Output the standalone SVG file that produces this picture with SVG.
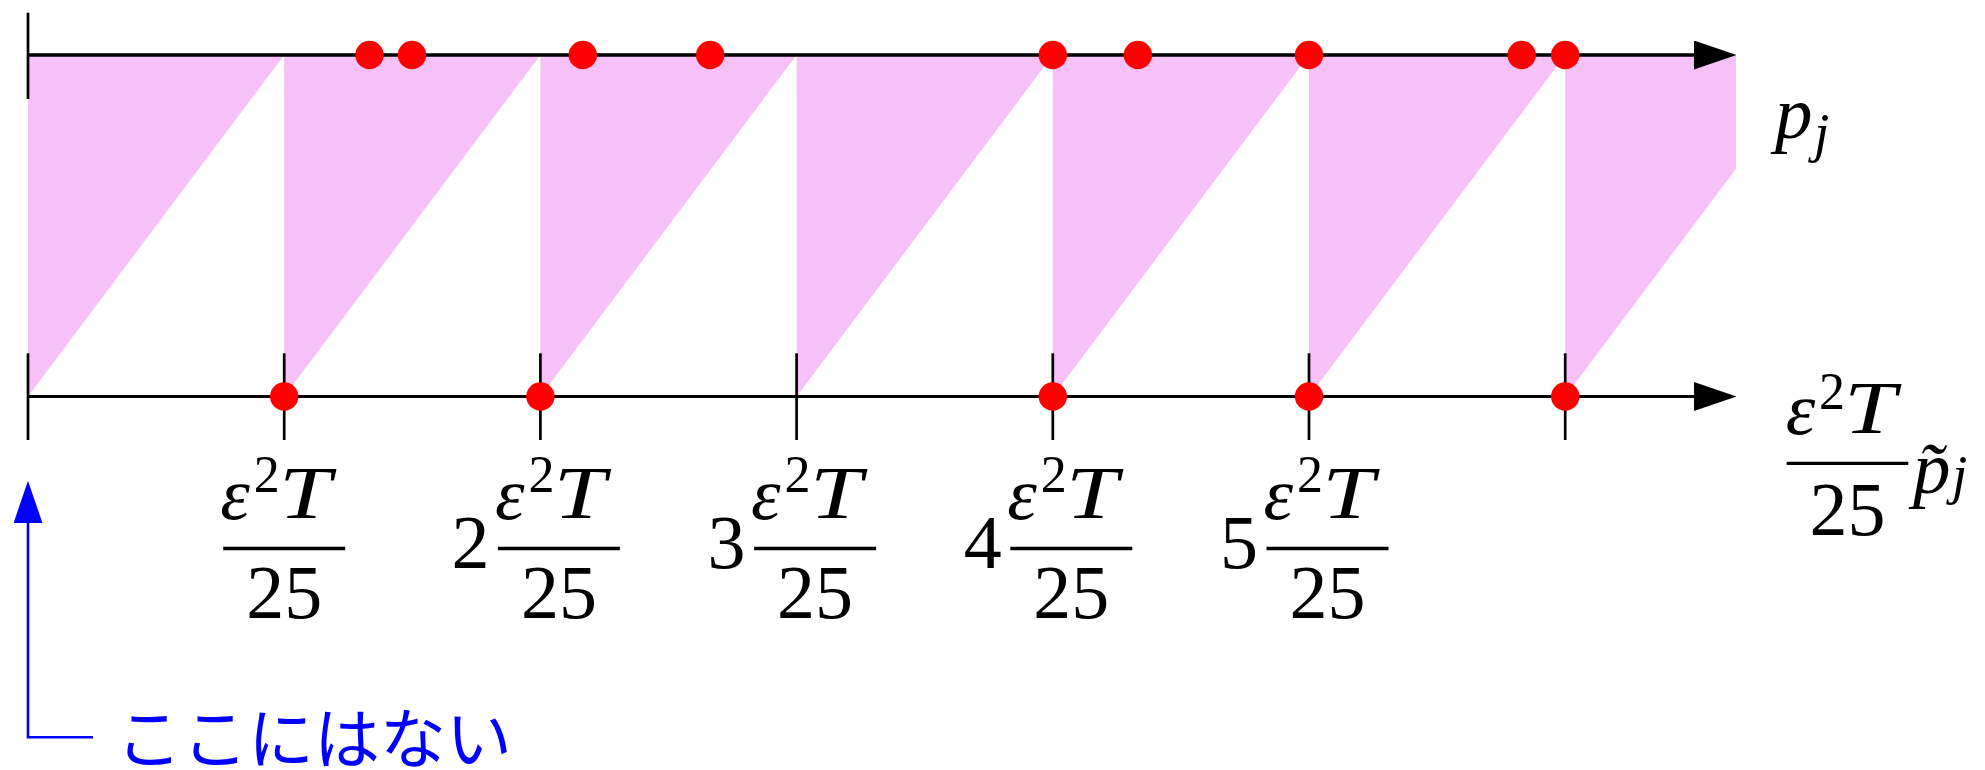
<svg xmlns="http://www.w3.org/2000/svg" width="1985" height="770" viewBox="0 0 1985 770">
<style>
.pink{fill:#f6c1f6}
.axt{stroke:#000;stroke-width:3.4;fill:none}
.axb{stroke:#000;stroke-width:2.8;fill:none}
.tick{stroke:#000;stroke-width:2.7}
.dot{fill:#ff0000}
.bar{stroke:#000;stroke-width:3.3}
.m{font-family:"Liberation Serif",serif;font-style:italic;font-size:75px;fill:#000}
.n{font-family:"Liberation Serif",serif;font-size:76px;fill:#000}
.sup{font-family:"Liberation Serif",serif;font-size:52px;fill:#000}
.sub{font-family:"Liberation Serif",serif;font-style:italic;font-size:55px;fill:#000}
.blue{stroke:#0000ff;stroke-width:2.6;fill:none}
.jp{font-family:"Noto Sans CJK JP",sans-serif;font-size:66px;fill:#0000ff}
</style>
<defs>
<marker id="ahk" markerUnits="userSpaceOnUse" markerWidth="44" markerHeight="30" viewBox="0 0 44 30" refX="6" refY="14.5" orient="auto"><path d="M0,0 L42.5,14.5 L0,29 z" fill="#000"/></marker>
<marker id="ahb" markerUnits="userSpaceOnUse" markerWidth="44" markerHeight="30" viewBox="0 0 44 30" refX="6" refY="14.5" orient="auto"><path d="M0,0 L42.5,14.5 L0,29 z" fill="#0000ff"/></marker>
</defs>
<rect width="1985" height="770" fill="#fff"/>
<g id="pink-regions">
<polygon class="pink" points="28,55 284.2,55 28,396.5"/>
<polygon class="pink" points="284.2,55 540.4,55 284.2,396.5"/>
<polygon class="pink" points="540.4,55 796.6,55 540.4,396.5"/>
<polygon class="pink" points="796.6,55 1052.8,55 796.6,396.5"/>
<polygon class="pink" points="1052.8,55 1309,55 1052.8,396.5"/>
<polygon class="pink" points="1309,55 1565.2,55 1309,396.5"/>
<polygon class="pink" points="1565.2,55 1736,55 1736,168.7 1565.2,396.5"/>
</g>
<g id="connectors">
<g id="axis-top">
<line class="axt" x1="28" y1="55" x2="1700" y2="55" marker-end="url(#ahk)"/>
<line class="tick" x1="28" y1="12.7" x2="28" y2="99"/>
</g>
<g id="axis-bottom">
<line class="axb" x1="28" y1="396.5" x2="1700" y2="396.5" marker-end="url(#ahk)"/>
<line class="tick" x1="28" y1="353.3" x2="28" y2="440"/>
<line class="tick" x1="284.2" y1="353.3" x2="284.2" y2="440"/>
<line class="tick" x1="540.4" y1="353.3" x2="540.4" y2="440"/>
<line class="tick" x1="796.6" y1="353.3" x2="796.6" y2="440"/>
<line class="tick" x1="1052.8" y1="353.3" x2="1052.8" y2="440"/>
<line class="tick" x1="1309" y1="353.3" x2="1309" y2="440"/>
<line class="tick" x1="1565.2" y1="353.3" x2="1565.2" y2="440"/>
</g>
<g id="annotation-arrow">
<polyline class="blue" points="93,737.3 28,737.3 28,517.2" marker-end="url(#ahb)"/>
</g>
</g>
<g id="dots-top">
<circle class="dot" cx="369.5" cy="55" r="14.2"/>
<circle class="dot" cx="412" cy="55" r="14.2"/>
<circle class="dot" cx="582.8" cy="55" r="14.2"/>
<circle class="dot" cx="710.2" cy="55" r="14.2"/>
<circle class="dot" cx="1052.8" cy="55" r="14.2"/>
<circle class="dot" cx="1137.9" cy="55" r="14.2"/>
<circle class="dot" cx="1309" cy="55" r="14.2"/>
<circle class="dot" cx="1521.7" cy="55" r="14.2"/>
<circle class="dot" cx="1565.2" cy="55" r="14.2"/>
</g>
<g id="dots-bottom">
<circle class="dot" cx="284.2" cy="396.5" r="14.2"/>
<circle class="dot" cx="540.4" cy="396.5" r="14.2"/>
<circle class="dot" cx="1052.8" cy="396.5" r="14.2"/>
<circle class="dot" cx="1309" cy="396.5" r="14.2"/>
<circle class="dot" cx="1565.2" cy="396.5" r="14.2"/>
</g>
<g id="label-p">
<text class="m" x="1775" y="137.5" font-size="78">p</text>
<text class="sub" x="1814" y="151">j</text>
</g>
<g id="label-1">
<text class="m" x="220.2" y="519">ε</text>
<text class="sup" x="253.7" y="492">2</text>
<text class="m" x="279" y="518" textLength="52" lengthAdjust="spacingAndGlyphs">T</text>
<line class="bar" x1="223.2" y1="548.5" x2="345.2" y2="548.5"/>
<text class="n" x="284.2" y="618" text-anchor="middle">25</text>
</g>
<g id="label-2">
<text class="n" x="470.4" y="568" text-anchor="middle">2</text>
<text class="m" x="494.9" y="519">ε</text>
<text class="sup" x="528.4" y="492">2</text>
<text class="m" x="553.7" y="518" textLength="52" lengthAdjust="spacingAndGlyphs">T</text>
<line class="bar" x1="497.9" y1="548.5" x2="619.9" y2="548.5"/>
<text class="n" x="558.9" y="618" text-anchor="middle">25</text>
</g>
<g id="label-3">
<text class="n" x="726.6" y="568" text-anchor="middle">3</text>
<text class="m" x="751.1" y="519">ε</text>
<text class="sup" x="784.6" y="492">2</text>
<text class="m" x="809.9" y="518" textLength="52" lengthAdjust="spacingAndGlyphs">T</text>
<line class="bar" x1="754.1" y1="548.5" x2="876.1" y2="548.5"/>
<text class="n" x="815.1" y="618" text-anchor="middle">25</text>
</g>
<g id="label-4">
<text class="n" x="982.8" y="568" text-anchor="middle">4</text>
<text class="m" x="1007.3" y="519">ε</text>
<text class="sup" x="1040.8" y="492">2</text>
<text class="m" x="1066.1" y="518" textLength="52" lengthAdjust="spacingAndGlyphs">T</text>
<line class="bar" x1="1010.3" y1="548.5" x2="1132.3" y2="548.5"/>
<text class="n" x="1071.3" y="618" text-anchor="middle">25</text>
</g>
<g id="label-5">
<text class="n" x="1239" y="568" text-anchor="middle">5</text>
<text class="m" x="1263.5" y="519">ε</text>
<text class="sup" x="1297" y="492">2</text>
<text class="m" x="1322.3" y="518" textLength="52" lengthAdjust="spacingAndGlyphs">T</text>
<line class="bar" x1="1266.5" y1="548.5" x2="1388.5" y2="548.5"/>
<text class="n" x="1327.5" y="618" text-anchor="middle">25</text>
</g>
<g id="label-ptilde">
<text class="m" x="1785.7" y="434">ε</text>
<text class="sup" x="1819" y="409">2</text>
<text class="m" x="1844" y="433" textLength="52" lengthAdjust="spacingAndGlyphs">T</text>
<line class="bar" x1="1786.7" y1="463.3" x2="1908.3" y2="463.3"/>
<text class="n" x="1847.5" y="535" text-anchor="middle">25</text>
<text class="m" x="1913" y="493" font-size="62">p̃</text>
<text class="sub" x="1952" y="493">j</text>
</g>
<g id="note">
<text class="jp" x="116" y="763">ここにはない</text>
</g>
</svg>
